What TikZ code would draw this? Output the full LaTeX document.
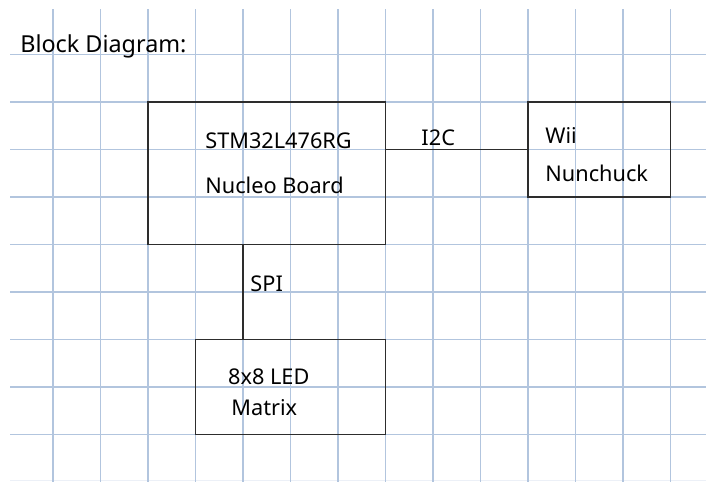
\documentclass[tikz,border=0pt]{standalone}
\usepackage{fontspec}
\setmainfont{Noto Sans}
\usepackage{tikz}
\usetikzlibrary{positioning, calc}
\definecolor{gridblue}{RGB}{178,197,222}
\definecolor{inkgray}{RGB}{45,45,45}

\begin{document}
\begin{tikzpicture}[
	gridline/.style={draw=gridblue, line width=1.1pt},
	blockbox/.style={draw=inkgray, line width=0.85pt, minimum width=#1, inner sep=0pt},
	wire/.style={draw=inkgray, line width=0.85pt},
	hand/.style={anchor=base west, inner sep=0pt, font=\fontsize{13}{15}\selectfont}]
	\useasboundingbox (-0.116,0) rectangle (14.747,10.147);
	\draw [draw=gridblue!25, line width=0.8pt] (0.1,0.03) -- (14.747,0.03);
	\foreach \x in {1,...,14}
		\draw [gridline] (\x,0) -- (\x,9.96);
	\foreach \y in {1,...,9}
		\draw [gridline] (0.1,\y) -- (14.747,\y);
	
	\node [blockbox=5cm, minimum height=3cm] (nucleo) at (5.5,6.5) {};
	\node [blockbox=3cm, minimum height=2cm] (wii) at (12.5,7) {};
	\node [blockbox=4cm, minimum height=2cm] (led) at (6,2) {};
	
	\coordinate (spitop) at ($(nucleo.south west)!0.4!(nucleo.south east)$);
	\draw [wire] (nucleo.east |- wii.west) -- (wii.west);
	\draw [wire] (spitop) -- (spitop |- led.north);
	
	\node [hand, font=\fontsize{14}{16}\selectfont] (title) at (0.305,9.05) {Block Diagram:};
	\node [hand] (mcu) at (4.2,7.03) {STM32L476RG};
	\node [hand] (board) at (4.2,6.08) {Nucleo Board};
	\node [hand] (i2c) at (8.75,7.09) {I2C};
	\node [hand] (wiitext) at (11.36,7.12) {Wii};
	\node [hand] (nunchuck) at (11.36,6.32) {Nunchuck};
	\node [hand] (spi) at (5.15,4.0) {SPI};
	\node [hand] (ledtext) at (4.68,2.06) {8x8 LED};
	\node [hand] (matrix) at (4.75,1.39) {Matrix};
\end{tikzpicture}
\end{document}
